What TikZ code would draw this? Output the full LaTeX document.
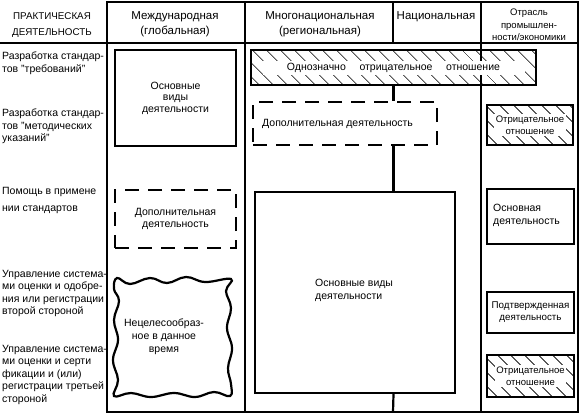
\documentclass[tikz,border=0pt]{standalone}
\usepackage{fontspec}
\setmainfont{Liberation Sans}
\usetikzlibrary{patterns.meta}
\tikzset{
    gridline/.style = {
        line width=2.6pt,
        line cap=rect
    },
    thingridline/.style = {
        line width=1.9pt,
        line cap=rect
    },
    boxnode/.style = {
        align=center,
        draw=black,
        line width=2.2pt,
        inner sep=0pt,
        font=\fontsize{10.5}{11.5}\selectfont
    },
    dashboxnode/.style = {
        boxnode,
        dash pattern=on 14pt off 9pt
    },
    hatchnode/.style = {
        boxnode,
        line width=2pt,
        pattern={Lines[angle=-45,distance=10.5pt,line width=0.9pt]}
    },
    hatchtext/.style = {
        align=center,
        fill=white,
        inner sep=1.5pt,
        font=\fontsize{9.5}{12}\selectfont
    },
    headtext/.style = {
        align=center,
        inner sep=0pt,
        font=\fontsize{11.5}{15}\selectfont
    },
    sidetext/.style = {
        align=left,
        anchor=north west,
        inner sep=0pt,
        font=\fontsize{10.5}{12.5}\selectfont
    },
    link/.style = {
        line width=2.2pt
    }
}
\begin{document}
\begin{tikzpicture}[x=1pt, y=-1pt]
    \useasboundingbox (0,0) rectangle (585,418);

    % table
    \draw[gridline] (107,2) -- (578,2);
    \draw[gridline] (0,43) -- (578,43);
    \draw[gridline] (107,412) -- (578,412);
    \draw[gridline] (107,2) -- (107,412);
    \draw[gridline] (245,2) -- (245,412);
    \draw[thingridline] (393,2) -- (393,43);
    \draw[thingridline] (481,2) -- (481,412);
    \draw[thingridline] (578,2) -- (578,412);
    \coordinate (bottomline) at (393,412);

    \node[headtext, font=\fontsize{9.8}{16}\selectfont] (practice) at (52,25) {ПРАКТИЧЕСКАЯ\\ДЕЯТЕЛЬНОСТЬ};
    \node[headtext] (global) at (175,24) {Международная\\(глобальная)};
    \node[headtext] (regional) at (320,24) {Многонациональная\\(региональная)};
    \node[headtext] (national) at (436,17) {Национальная};
    \node[headtext, font=\fontsize{9.5}{12.5}\selectfont] (branch) at (529,25) {Отрасль\\промышлен-\\ности/экономики};

    \node[sidetext] (req) at (2,52) {Разработка стандар-\\тов "требований"};
    \node[sidetext] (meth) at (2,109) {Разработка стандар-\\тов "методических\\указаний"};
    \node[sidetext, font=\fontsize{10.5}{17}\selectfont] (help) at (2,187) {Помощь в примене\\нии стандартов};
    \node[sidetext] (second) at (2,270) {Управление система-\\ми оценки и одобре-\\ния или регистрации\\второй стороной};
    \node[sidetext] (third) at (2,345) {Управление система-\\ми оценки и серти\\фикации и (или)\\регистрации третьей\\стороной};

    % international
    \node[boxnode, minimum width=121pt, minimum height=96pt] (intmain) at (175.5,98) {Основные\\виды\\деятельности};
    \node[dashboxnode, minimum width=121pt, minimum height=58pt] (intadd) at (175.5,219) {Дополнительная\\деятельность};
    \draw[line width=2.2pt] plot[smooth cycle, tension=0.7] coordinates {
        (117,278) (130,284) (150,278) (167,283) (186,277) (205,282) (231,279)
        (226,291) (231,308) (227,328) (232,348) (228,368) (231,384) (230,396)
        (214,392) (195,397) (174,393) (151,397) (131,393) (114,396)
        (118,380) (113,360) (118,340) (114,320) (119,301) (114,289)};
    \node[align=center, inner sep=0pt, font=\fontsize{10.5}{13}\selectfont] (untimely) at (164,337) {Нецелесообраз-\\ное в данное\\время};

    % regional
    \node[hatchnode, minimum width=285pt, minimum height=35pt] (neg) at (393.5,67.5) {};
    \node[hatchtext, minimum width=262pt, minimum height=14pt, font=\fontsize{10.5}{12}\selectfont] (negtext) at (neg.center) {Однозначно\hspace{1.3em}отрицательное\hspace{1.3em}отношение};
    \node[dashboxnode, minimum width=184pt, minimum height=43pt] (regadd) at (345,123.5) {};
    \node[inner sep=0pt, anchor=west, font=\fontsize{10.5}{12}\selectfont] (regaddtext) at (262,123.5) {Дополнительная деятельность};
    \node[boxnode, minimum width=200pt, minimum height=201pt] (regmain) at (355,292.5) {};
    \node[sidetext] (regmaintext) at (315,279) {Основные виды\\деятельности};
    \draw[link] (neg.south) -- (neg.south |- regadd.north);
    \draw[link] (neg.south |- regadd.south) -- (neg.south |- regmain.north);
    \draw[link] (neg.south |- regmain.south) -- (bottomline);

    % branch
    \node[hatchnode, minimum width=86pt, minimum height=40pt] (brneg) at (530,125) {};
    \node[hatchtext] (brnegtext) at (brneg.center) {Отрицательное\\отношение};
    \node[boxnode, minimum width=87pt, minimum height=55pt] (brmain) at (530.5,216.5) {};
    \node[sidetext] (brmaintext) at (493,204) {Основная\\деятельность};
    \node[boxnode, minimum width=87pt, minimum height=41pt, font=\fontsize{9.8}{12}\selectfont] (brconf) at (530.5,312.5) {Подтвержденная\\деятельность};
    \node[hatchnode, minimum width=87pt, minimum height=42pt] (brneg2) at (530.5,376) {};
    \node[hatchtext] (brneg2text) at (brneg2.center) {Отрицательное\\отношение};
\end{tikzpicture}
\end{document}
